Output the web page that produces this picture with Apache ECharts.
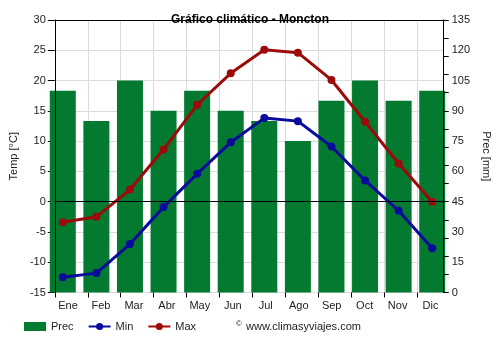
<!DOCTYPE html>
<html><head><meta charset="utf-8">
<script src="https://cdn.jsdelivr.net/npm/echarts@6/dist/echarts.min.js"></script>
<style>html,body{margin:0;padding:0;background:#fff}#c{width:500px;height:350px}</style>
</head><body><div id="c"></div>
<script>
const months = ['Ene','Feb','Mar','Abr','May','Jun','Jul','Ago','Sep','Oct','Nov','Dic'];
const prec = [100, 85, 105, 90, 100, 90, 85, 75, 95, 105, 95, 100];
const tMin = [-12.5, -11.8, -7.0, -0.9, 4.6, 9.8, 13.8, 13.3, 9.1, 3.5, -1.5, -7.7];
const tMax = [-3.4, -2.5, 2.0, 8.6, 16.0, 21.2, 25.1, 24.6, 20.1, 13.2, 6.3, 0.0];

const green = '#037a2f', blue = '#0a0a9c', red = '#9c0a0a';
const font = 'Liberation Sans, Arial, sans-serif';
const txt = '#222';
const chart = echarts.init(document.getElementById('c'), null, {renderer:'canvas'});
const labelIdx = months.map((m,i)=>i);
const tickIdx = months.map((m,i)=>i-0.4);
chart.setOption({
  animation:false,
  textStyle:{fontFamily:font},
  title:{text:'Gráfico climático - Moncton', left:'center', top:9,
    textStyle:{fontSize:12, fontWeight:'bold', color:'#000', fontFamily:font}},
  grid:[
    {left:49, right:54.5, top:20, bottom:57.5},   // frame / axes
    {left:46, right:51, top:20, bottom:57.5}      // data bands
  ],
  legend:{left:19, top:316, itemGap:14, itemWidth:22, itemHeight:9,
    textStyle:{fontSize:11, color:txt, fontFamily:font},
    data:[{name:'Prec', icon:'rect'},{name:'Min'},{name:'Max'}]},
  graphic:[
    {type:'text', left:236, top:320, style:{text:'©', fontSize:8, fill:txt, fontFamily:font}},
    {type:'text', left:246, top:321, style:{text:'www.climasyviajes.com', fontSize:11, fill:txt, fontFamily:font}}
  ],
  xAxis:[
    {gridIndex:0, type:'value', min:-0.4, max:11.4,
     axisLine:{show:false, onZero:false},
     axisTick:{show:true, length:5, customValues:tickIdx, lineStyle:{color:'#000'}},
     splitLine:{show:true, lineStyle:{color:'#dcdcdc'}},
     axisLabel:{show:true, customValues:labelIdx,
       formatter:v=>months[Math.round(v)]||'', fontSize:11, color:txt, margin:8}},
    {gridIndex:1, type:'category', data:months, boundaryGap:true, show:false},
    {gridIndex:0, type:'value', min:-0.4, max:11.4, z:10,
     axisLine:{show:true, onZero:false, lineStyle:{color:'#000'}},
     axisTick:{show:false}, splitLine:{show:false}, axisLabel:{show:false}}
  ],
  yAxis:[
    {gridIndex:0, type:'value', min:-15, max:30, interval:5, position:'left',
     name:'Temp [°C]', nameLocation:'middle', nameGap:35, nameRotate:90,
     nameTextStyle:{fontSize:11, color:txt},
     axisLine:{show:false, onZero:false},
     axisTick:{show:true, length:7, lineStyle:{color:'#000'}},
     splitLine:{show:true, lineStyle:{color:'#dcdcdc'}},
     axisLabel:{fontSize:11, color:txt, margin:9}},
    {gridIndex:0, type:'value', min:0, max:135, interval:15, position:'right', z:10,
     name:'Prec [mm]', nameLocation:'middle', nameGap:35, nameRotate:-90,
     nameTextStyle:{fontSize:11, color:txt},
     axisLine:{show:true, onZero:false, lineStyle:{color:'#000'}},
     axisTick:{show:false}, splitLine:{show:false},
     axisLabel:{fontSize:11, color:txt, margin:8}},
    {gridIndex:0, type:'value', min:0, max:135, interval:9, position:'right', z:10,
     axisLine:{show:false, onZero:false},
     axisTick:{show:true, length:5, lineStyle:{color:'#000'}},
     splitLine:{show:false}, axisLabel:{show:false}},
    {gridIndex:0, type:'value', min:-15, max:30, position:'left', z:10,
     axisLine:{show:true, onZero:false, lineStyle:{color:'#000'}},
     axisTick:{show:false}, splitLine:{show:false}, axisLabel:{show:false}},
    {gridIndex:1, type:'value', min:-15, max:30, show:false, splitLine:{show:false}},
    {gridIndex:1, type:'value', min:0, max:135, show:false, splitLine:{show:false}}
  ],
  series:[
    {name:'Prec', type:'bar', xAxisIndex:1, yAxisIndex:5, barWidth:26, data:prec,
     itemStyle:{color:green}, z:1},
    {name:'zero', type:'line', xAxisIndex:0, yAxisIndex:0, data:[], silent:true, z:2,
     markLine:{silent:true, symbol:'none', label:{show:false}, animation:false,
       lineStyle:{color:'#000', type:'solid', width:1}, data:[{yAxis:0}]}},
    {name:'Min', type:'line', xAxisIndex:1, yAxisIndex:4, data:tMin, color:blue,
     lineStyle:{width:3, color:blue}, itemStyle:{color:blue},
     symbol:'circle', symbolSize:8, z:3},
    {name:'Max', type:'line', xAxisIndex:1, yAxisIndex:4, data:tMax, color:red,
     lineStyle:{width:3, color:red}, itemStyle:{color:red},
     symbol:'circle', symbolSize:8, z:3}
  ]
});
</script></body></html>
